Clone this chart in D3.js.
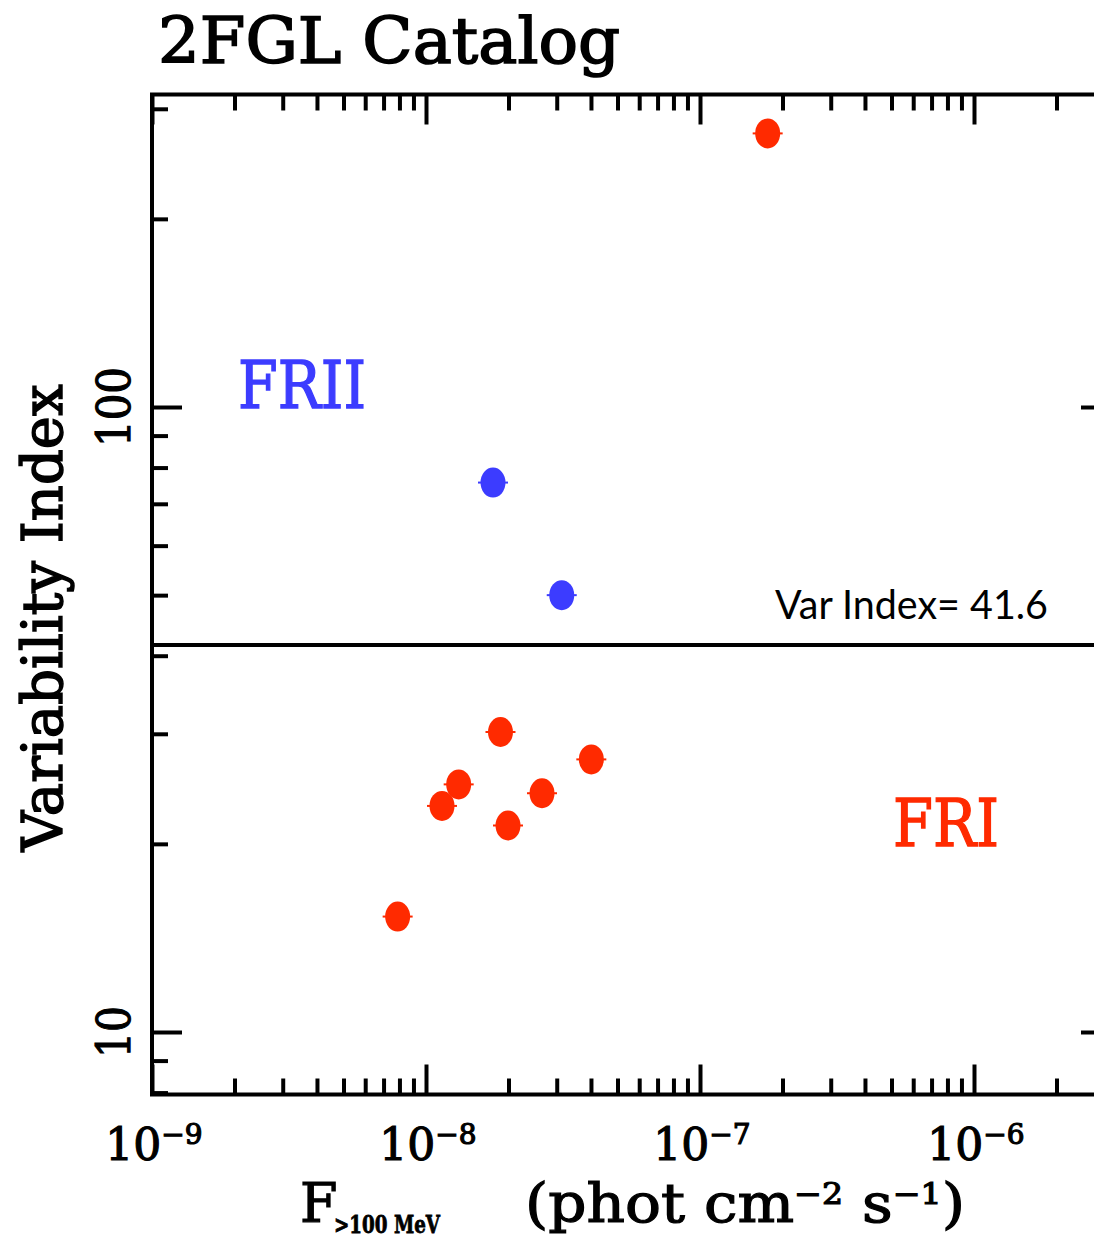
<!DOCTYPE html>
<html>
<head>
<meta charset="utf-8">
<script src="https://cdn.jsdelivr.net/npm/d3@7"></script>
<style>
  html, body { margin: 0; padding: 0; background: #ffffff; }
  svg { display: block; }
</style>
</head>
<body>
<script>
// ---- data ----
const friiFlux = [1.756e-8, 3.129e-8];
const friiVarIndex = [75.7, 50.0];
const friFlux = [1.766e-7, 1.870e-8, 4.012e-8, 1.316e-8, 1.144e-8, 2.651e-8, 1.992e-8, 7.88e-9];
const friVarIndex = [274, 30.2, 27.3, 24.9, 23.0, 24.1, 21.4, 15.3];
const varThreshold = 41.6;
const xTickExponents = [-9, -8, -7, -6];
const yTickLabels = [10, 100];
const xDomain = [1e-9, Math.pow(10, -5.5)];
const yDomain = [Math.pow(10, 0.9), Math.pow(10, 2.5)];

// ---- layout ----
const W = 1094, H = 1239;
const m = { left: 152, top: 94.5 };
const pw = 959, ph = 1000;
const RED = "#ff2a00", BLUE = "#3c3cff";
const SERIF = "'DejaVu Serif', serif";

const svg = d3.select("body").append("svg").attr("width", W).attr("height", H);
svg.append("rect").attr("width", W).attr("height", H).attr("fill", "#fff");

const x = d3.scaleLog().domain(xDomain).range([0, pw]);
const y = d3.scaleLog().domain(yDomain).range([ph, 0]);

const g = svg.append("g").attr("transform", `translate(${m.left},${m.top})`);

// ticks
const xMajor = xTickExponents.map(e => Math.pow(10, e));
const xMinor = x.ticks().filter(v => !xMajor.some(M => Math.abs(v / M - 1) < 1e-6));
const yMajor = yTickLabels.slice();
const yMinor = y.ticks().filter(v => !yMajor.some(M => Math.abs(v / M - 1) < 1e-6));

function styleAxis(sel) {
  sel.select(".domain").remove();
  sel.selectAll("text").remove();
  sel.selectAll("line").attr("stroke", "#000").attr("stroke-width", 4);
}
const MAJ = 30, MIN = 16;
g.append("g").attr("transform", `translate(0,${ph})`).call(d3.axisTop(x).tickValues(xMajor).tickSize(MAJ)).call(styleAxis);
g.append("g").attr("transform", `translate(0,${ph})`).call(d3.axisTop(x).tickValues(xMinor).tickSize(MIN)).call(styleAxis);
g.append("g").call(d3.axisBottom(x).tickValues(xMajor).tickSize(MAJ)).call(styleAxis);
g.append("g").call(d3.axisBottom(x).tickValues(xMinor).tickSize(MIN)).call(styleAxis);
g.append("g").call(d3.axisRight(y).tickValues(yMajor).tickSize(MAJ)).call(styleAxis);
g.append("g").call(d3.axisRight(y).tickValues(yMinor).tickSize(MIN)).call(styleAxis);
g.append("g").attr("transform", `translate(${pw},0)`).call(d3.axisLeft(y).tickValues(yMajor).tickSize(MAJ)).call(styleAxis);
g.append("g").attr("transform", `translate(${pw},0)`).call(d3.axisLeft(y).tickValues(yMinor).tickSize(MIN)).call(styleAxis);

// frame
g.append("rect").attr("width", pw).attr("height", ph)
  .attr("fill", "none").attr("stroke", "#000").attr("stroke-width", 4);

// threshold line
g.append("line").attr("x1", 0).attr("x2", pw)
  .attr("y1", y(varThreshold)).attr("y2", y(varThreshold))
  .attr("stroke", "#000").attr("stroke-width", 4);

// points
function drawPoints(xs, ys, color) {
  const pts = xs.map((v, i) => ({ f: v, vi: ys[i] }));
  const pg = g.append("g");
  pg.selectAll("line.stub").data(pts).join("line")
    .attr("x1", d => x(d.f) - 15).attr("x2", d => x(d.f) + 15)
    .attr("y1", d => y(d.vi)).attr("y2", d => y(d.vi))
    .attr("stroke", color).attr("stroke-width", 2);
  pg.selectAll("ellipse").data(pts).join("ellipse")
    .attr("cx", d => x(d.f)).attr("cy", d => y(d.vi))
    .attr("rx", 12.5).attr("ry", 15).attr("fill", color);
}
drawPoints(friiFlux, friiVarIndex, BLUE);
drawPoints(friFlux, friVarIndex, RED);

function serifText(sel, size, color, sw) {
  return sel.attr("font-family", SERIF).attr("font-size", size)
    .attr("fill", color).attr("stroke", color).attr("stroke-width", sw);
}

// x tick labels
xTickExponents.forEach(e => {
  const t = serifText(svg.append("text")
    .attr("x", m.left + x(Math.pow(10, e)) + 2).attr("y", 1160)
    .attr("text-anchor", "middle"), 44, "#000", 1.2);
  t.append("tspan").text("10");
  t.append("tspan").attr("font-size", 28).attr("dy", -16).text("\u2212" + Math.abs(e));
});

// y tick labels (rotated)
yTickLabels.forEach(v => {
  serifText(svg.append("text")
    .attr("transform", `translate(130,${m.top + y(v)}) rotate(-90)`)
    .attr("text-anchor", "middle"), 46, "#000", 1.2)
    .attr("textLength", v === 100 ? 80 : 52).attr("lengthAdjust", "spacingAndGlyphs")
    .text(String(v));
});

// title
serifText(svg.append("text").attr("x", 158).attr("y", 63), 64, "#000", 1.6)
  .attr("textLength", 462).attr("lengthAdjust", "spacingAndGlyphs")
  .text("2FGL Catalog");

// y axis title
serifText(svg.append("text")
  .attr("transform", `translate(62,618) rotate(-90)`)
  .attr("text-anchor", "middle"), 56, "#000", 1.5)
  .attr("textLength", 467).attr("lengthAdjust", "spacingAndGlyphs")
  .text("Variability Index");

// x axis title
serifText(svg.append("text").attr("x", 300).attr("y", 1222), 54, "#000", 1.2).text("F");
serifText(svg.append("text").attr("x", 334).attr("y", 1233), 24, "#000", 0.8)
  .attr("font-weight", "bold")
  .attr("textLength", 106).attr("lengthAdjust", "spacingAndGlyphs").text(">100 MeV");
const xt = serifText(svg.append("text").attr("x", 525).attr("y", 1222), 54, "#000", 1.2)
  .attr("textLength", 440).attr("lengthAdjust", "spacingAndGlyphs");
xt.append("tspan").text("(phot cm");
xt.append("tspan").attr("font-size", 30).attr("dy", -18).text("\u22122");
xt.append("tspan").attr("dy", 18).text(" s");
xt.append("tspan").attr("font-size", 30).attr("dy", -18).text("\u22121");
xt.append("tspan").attr("dy", 18).text(")");

// class labels
serifText(svg.append("text").attr("x", 238).attr("y", 408), 66, BLUE, 1.4)
  .attr("textLength", 128).attr("lengthAdjust", "spacingAndGlyphs").text("FRII");
serifText(svg.append("text").attr("x", 893).attr("y", 846), 66, RED, 1.4)
  .attr("textLength", 106).attr("lengthAdjust", "spacingAndGlyphs").text("FRI");

// threshold annotation
svg.append("text").attr("x", 775).attr("y", 619)
  .attr("font-family", "Lato, sans-serif").attr("font-size", 40).attr("fill", "#000")
  .attr("textLength", 273).attr("lengthAdjust", "spacingAndGlyphs")
  .text("Var Index= " + varThreshold);
</script>
</body>
</html>
